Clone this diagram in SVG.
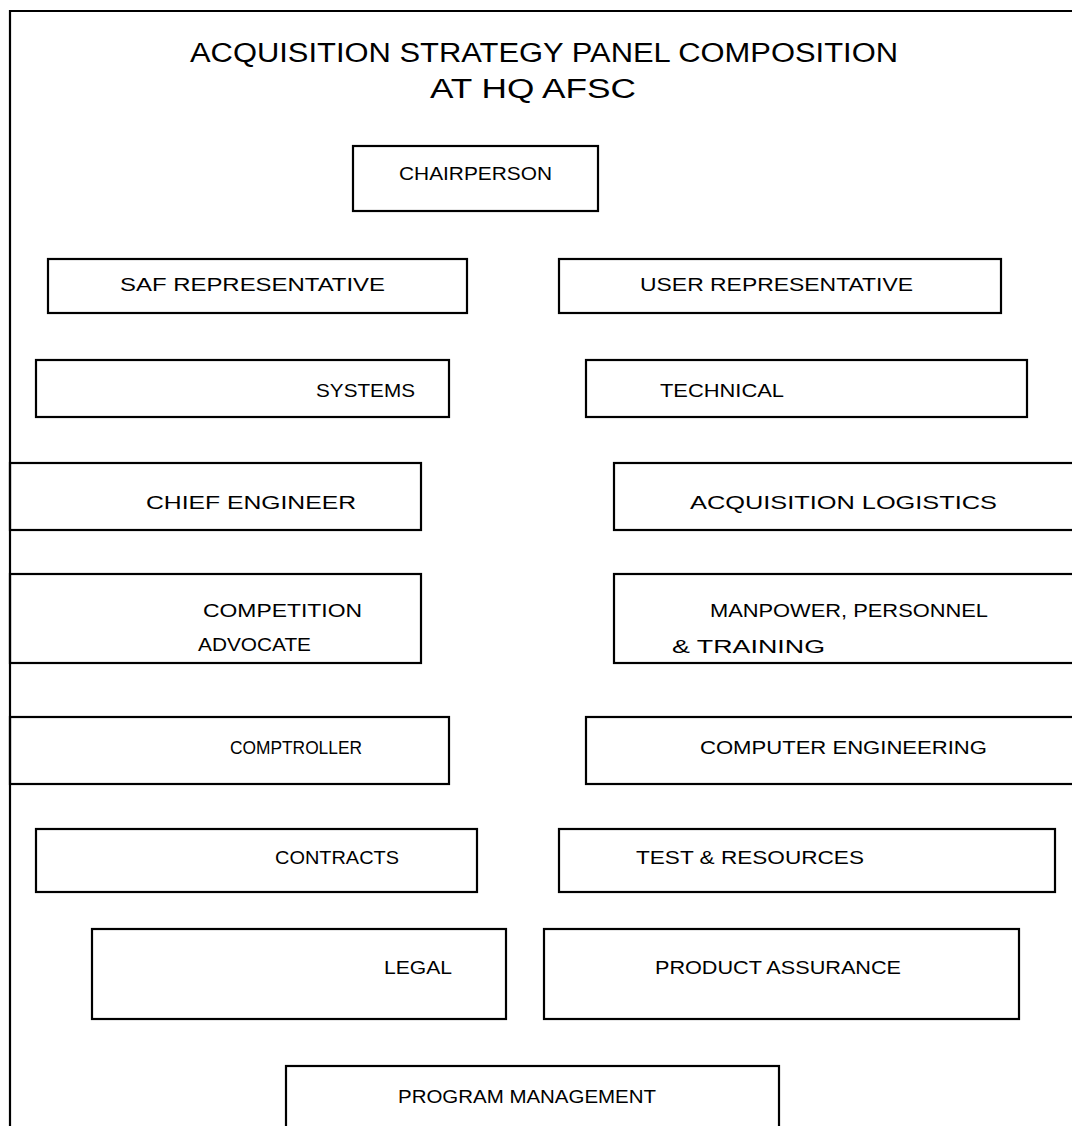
<svg xmlns="http://www.w3.org/2000/svg" width="1072" height="1126" viewBox="0 0 1072 1126">
  <style>
    .frame { fill: none; stroke: #000; stroke-width: 2.2; }
    .box { fill: none; stroke: #000; stroke-width: 2.2; }
    text { font-family: "Liberation Sans", "DejaVu Sans", sans-serif; fill: #000; }
    .title { font-size: 27px; }
    .lbl { font-size: 19px; }
  </style>
  <rect width="1072" height="1126" fill="#fff"/>
  <!-- page frame: top and left edges only -->
  <path class="frame" d="M10,1126 V11 H1072"/>

  <g id="title">
    <text class="title" x="190" y="62" textLength="708" lengthAdjust="spacingAndGlyphs">ACQUISITION STRATEGY PANEL COMPOSITION</text>
    <text class="title" x="430" y="98" textLength="206" lengthAdjust="spacingAndGlyphs">AT HQ AFSC</text>
  </g>

  <g id="connectors"></g>

  <g id="chairperson">
    <rect class="box" x="353" y="146" width="245" height="65"/>
    <text class="lbl" x="399" y="180" textLength="153" lengthAdjust="spacingAndGlyphs">CHAIRPERSON</text>
  </g>
  <g id="saf-rep">
    <rect class="box" x="48" y="259" width="419" height="54"/>
    <text class="lbl" x="120" y="291" textLength="265" lengthAdjust="spacingAndGlyphs">SAF REPRESENTATIVE</text>
  </g>
  <g id="user-rep">
    <rect class="box" x="559" y="259" width="442" height="54"/>
    <text class="lbl" x="640" y="291" textLength="273" lengthAdjust="spacingAndGlyphs">USER REPRESENTATIVE</text>
  </g>
  <g id="systems">
    <rect class="box" x="36" y="360" width="413" height="57"/>
    <text class="lbl" x="316" y="397" textLength="99" lengthAdjust="spacingAndGlyphs">SYSTEMS</text>
  </g>
  <g id="technical">
    <rect class="box" x="586" y="360" width="441" height="57"/>
    <text class="lbl" x="660" y="397" textLength="124" lengthAdjust="spacingAndGlyphs">TECHNICAL</text>
  </g>
  <g id="chief-engineer">
    <rect class="box" x="10" y="463" width="411" height="67"/>
    <text class="lbl" x="146" y="509" textLength="210" lengthAdjust="spacingAndGlyphs">CHIEF ENGINEER</text>
  </g>
  <g id="acq-logistics">
    <rect class="box" x="614" y="463" width="470" height="67"/>
    <text class="lbl" x="690" y="509" textLength="307" lengthAdjust="spacingAndGlyphs">ACQUISITION LOGISTICS</text>
  </g>
  <g id="competition-advocate">
    <rect class="box" x="10" y="574" width="411" height="89"/>
    <text class="lbl" x="203" y="617" textLength="159" lengthAdjust="spacingAndGlyphs">COMPETITION</text>
    <text class="lbl" x="198" y="651" textLength="113" lengthAdjust="spacingAndGlyphs">ADVOCATE</text>
  </g>
  <g id="manpower">
    <rect class="box" x="614" y="574" width="470" height="89"/>
    <text class="lbl" x="710" y="617" textLength="278" lengthAdjust="spacingAndGlyphs">MANPOWER, PERSONNEL</text>
    <text class="lbl" x="672" y="653" textLength="153" lengthAdjust="spacingAndGlyphs">&amp; TRAINING</text>
  </g>
  <g id="comptroller">
    <rect class="box" x="10" y="717" width="439" height="67"/>
    <text class="lbl" x="230" y="754" textLength="132" lengthAdjust="spacingAndGlyphs">COMPTROLLER</text>
  </g>
  <g id="computer-engineering">
    <rect class="box" x="586" y="717" width="498" height="67"/>
    <text class="lbl" x="700" y="754" textLength="287" lengthAdjust="spacingAndGlyphs">COMPUTER ENGINEERING</text>
  </g>
  <g id="contracts">
    <rect class="box" x="36" y="829" width="441" height="63"/>
    <text class="lbl" x="275" y="864" textLength="124" lengthAdjust="spacingAndGlyphs">CONTRACTS</text>
  </g>
  <g id="test-resources">
    <rect class="box" x="559" y="829" width="496" height="63"/>
    <text class="lbl" x="636" y="864" textLength="228" lengthAdjust="spacingAndGlyphs">TEST &amp; RESOURCES</text>
  </g>
  <g id="legal">
    <rect class="box" x="92" y="929" width="414" height="90"/>
    <text class="lbl" x="384" y="974" textLength="68" lengthAdjust="spacingAndGlyphs">LEGAL</text>
  </g>
  <g id="product-assurance">
    <rect class="box" x="544" y="929" width="475" height="90"/>
    <text class="lbl" x="655" y="974" textLength="246" lengthAdjust="spacingAndGlyphs">PRODUCT ASSURANCE</text>
  </g>
  <g id="program-management">
    <rect class="box" x="286" y="1066" width="493" height="80"/>
    <text class="lbl" x="398" y="1103" textLength="258" lengthAdjust="spacingAndGlyphs">PROGRAM MANAGEMENT</text>
  </g>
</svg>
